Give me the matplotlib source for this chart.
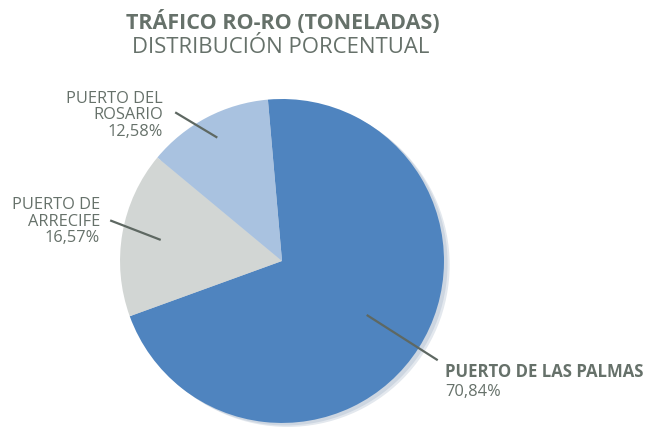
import numpy as np
import matplotlib
matplotlib.use("Agg")
import matplotlib.pyplot as plt
from matplotlib.patches import Circle

plt.rcParams['font.family'] = ['Open Sans', 'DejaVu Sans']

# Data
ports = ["PUERTO DE LAS PALMAS", "PUERTO DE\nARRECIFE", "PUERTO DEL\nROSARIO"]
shares = [70.84, 16.57, 12.58]
share_labels = ["70,84%", "16,57%", "12,58%"]
colors = ["#4F84BF", "#D2D6D4", "#A9C2E0"]

TEXT = "#66716A"
LINE = "#5E6862"

fig = plt.figure(figsize=(6.51, 4.28), dpi=100)
ax = fig.add_axes([0, 0, 1, 1])

# soft shadow behind the pie
for off, col in [(0.035, "#E3E8EE"), (0.022, "#CDD6E1")]:
    ax.add_patch(Circle((off, -off * 0.7), 1.0, color=col, zorder=0, lw=0))

start = 95
wedges, _ = ax.pie(shares, colors=colors, startangle=start, counterclock=False,
                   radius=1.0, center=(0, 0),
                   wedgeprops=dict(linewidth=0, zorder=2))

ax.set_xlim(-1.741, 2.278)
ax.set_ylim(-1.031, 1.611)
ax.set_aspect('equal')
ax.axis('off')

# leader lines and labels
angles = []
acc = start
for s in shares:
    span = s / 100 * 360
    angles.append(np.deg2rad(acc - span / 2))
    acc -= span

leader = [
    (0.62, 1.14, 0.0),
    (0.76, 1.09, -0.06),
    (0.86, 1.13, 0.14),
]
for th, (r0, r1, dth) in zip(angles, leader):
    ax.plot([r0 * np.cos(th), r1 * np.cos(th + dth)],
            [r0 * np.sin(th), r1 * np.sin(th + dth)],
            color=LINE, lw=1.6, solid_capstyle='butt', zorder=3)

FS = 11.8
# Las Palmas (bold name, regular percentage)
ax.text(1.006, -0.685, ports[0], fontsize=12.1, fontweight='bold', color=TEXT,
        ha='left', va='center')
ax.text(1.006, -0.809, share_labels[0], fontsize=FS, color=TEXT,
        ha='left', va='center')
# Arrecife
ax.text(-1.123, 0.241, ports[1] + "\n" + share_labels[1], fontsize=FS, color=TEXT,
        ha='right', va='center', linespacing=1.04, multialignment='right')
# Rosario
ax.text(-0.735, 0.90, ports[2] + "\n" + share_labels[2], fontsize=FS, color=TEXT,
        ha='right', va='center', linespacing=1.04, multialignment='right')

fig.text(0.434, 0.948, "TRÁFICO RO-RO (TONELADAS)", fontsize=15.5, fontweight='bold',
         color=TEXT, ha='center', va='center')
fig.text(0.431, 0.888, "DISTRIBUCIÓN PORCENTUAL", fontsize=15.9,
         color=TEXT, ha='center', va='center')

fig.savefig("out.png", dpi=100)
